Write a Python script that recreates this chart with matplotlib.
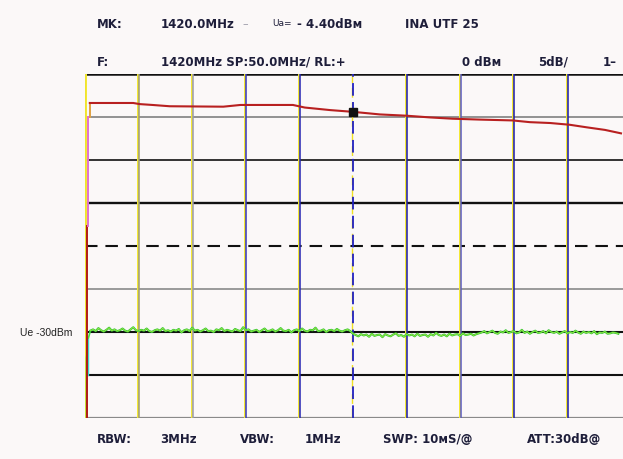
import numpy as np
import matplotlib
matplotlib.use("Agg")
import matplotlib.pyplot as plt

# ---------- data (read off the screen shot) ----------
# frequency axis: centre 1420 MHz, span 50 MHz, 5 dB/div, ref level 0 dBm
f_start, f_stop = 1395.0, 1445.0
ref_level, db_div, n_div_y = 0.0, 5.0, 8

# red trace (upper): frequency in MHz, level in dBm
red_f = [1395.45, 1399.5, 1400.1, 1401.3, 1402.9, 1407.9, 1409.5, 1414.4, 1415.5,
         1417.9, 1420.0, 1422.5, 1425.0, 1427.2, 1429.3, 1431.8, 1434.9, 1436.5,
         1438.4, 1440.2, 1441.8, 1443.5, 1445.0]
red_db = [-3.37, -3.37, -3.5, -3.6, -3.75, -3.8, -3.6, -3.6, -3.9,
          -4.2, -4.4, -4.7, -4.85, -5.05, -5.2, -5.3, -5.4, -5.6,
          -5.7, -5.9, -6.2, -6.5, -6.9]

# green trace (lower, noisy around -30 dBm), one value every 0.25 MHz from 1395.5
green_left = [-29.85, -29.7, -29.9, -29.55, -29.8, -29.95, -29.75, -29.5, -29.85, -29.7,
              -29.9, -29.8, -29.6, -29.85, -29.95, -29.7, -29.45, -29.8, -29.9, -29.75,
              -29.85, -29.6, -29.9, -30.0, -29.8, -29.7, -29.85, -29.55, -29.9, -29.8,
              -29.95, -29.75, -29.85, -29.65, -30.05, -29.8, -29.7, -29.9, -29.5, -29.85,
              -29.75, -29.95, -29.8, -29.6, -29.9, -29.85, -30.0, -29.7, -29.8, -29.55,
              -29.9, -29.75, -29.85, -29.95, -29.65, -29.8, -29.9, -29.45, -29.8, -29.7,
              -29.95, -29.85, -29.75, -30.0, -29.8, -29.6, -29.9, -29.85, -29.7, -29.95,
              -29.8, -29.55, -29.85, -29.9, -29.75, -30.05, -29.8, -29.7, -29.9, -29.6,
              -29.85, -29.95, -29.75, -29.8, -29.5, -29.9, -29.85, -29.7, -30.0, -29.8,
              -29.75, -29.9, -29.65, -29.85, -29.95, -29.8, -29.7, -29.9]
green_mid = [-30.2, -30.35, -30.5, -30.25, -30.4, -30.3, -30.55, -30.2, -30.45, -30.35,
             -30.3, -30.6, -30.25, -30.4, -30.5, -30.3, -30.15, -30.45, -30.35, -30.55,
             -30.25, -30.4, -30.3, -30.5, -30.2, -30.45, -30.35, -30.3, -30.55, -30.25,
             -30.4, -30.1, -30.35, -30.45, -30.3, -30.5, -30.2, -30.4, -30.3, -30.25,
             -30.45, -30.15, -30.35, -30.3, -30.2, -30.4, -30.25, -30.15]
green_right = [-30.05, -29.9, -30.15, -30.0, -29.85, -30.1, -30.2, -29.95, -30.05, -29.8,
               -30.1, -30.0, -29.9, -30.15, -30.05, -29.75, -30.1, -29.95, -30.2, -30.0,
               -29.85, -30.1, -30.05, -29.9, -30.15, -29.8, -30.0, -30.1, -29.95, -30.2,
               -30.05, -29.9, -30.15, -30.0, -30.1, -29.85, -30.05, -30.2, -29.95, -30.1,
               -30.0, -30.15, -29.9, -30.25, -30.05, -30.1, -29.95, -30.2, -30.15, -30.05,
               -30.1, -30.2]
green_db = green_left + green_mid + green_right
green_f = 1395.5 + 0.25 * np.arange(len(green_db))

marker_f, marker_db = 1420.0, -4.40

# ---------- figure ----------
BG = "#fbf8f8"
INK = "#1e1e3a"
fig = plt.figure(figsize=(6.23, 4.60), dpi=100, facecolor=BG)
ax = fig.add_axes([85 / 623, 41 / 460, 538 / 623, 344 / 460], facecolor=BG)
ax.set_xlim(f_start, f_start + (f_stop - f_start) * 538 / 536)
ax.set_ylim(ref_level - n_div_y * db_div, ref_level)
ax.set_xticks([]); ax.set_yticks([])
for s in ax.spines.values():
    s.set_visible(False)

# horizontal graticule
h_style = {-5: ("#8a8a8a", 1.3, "-"), -10: ("#111111", 1.2, "-"), -15: ("#111111", 1.7, "-"),
           -20: ("#111111", 1.5, "--"), -25: ("#8a8a8a", 1.2, "-"), -30: ("#111111", 1.5, "-"),
           -35: ("#111111", 1.5, "-"), -40: ("#8a8a8a", 1.6, "-")}
for lvl, (c, lw, ls) in h_style.items():
    if ls == "--":
        ax.axhline(lvl, color=c, lw=lw, dashes=(6, 3.8), zorder=2)
    else:
        ax.axhline(lvl, color=c, lw=lw, zorder=2)
ax.axhline(0, color="#111111", lw=1.8, zorder=2)

# vertical graticule: yellow line with a grey/blue partner
v_cols = ["#9c9a78", "#9a9ab0", "#3434c0", "#2424b4", "#2020c0", "#1a1ab0", "#5a5ac0", "#1a1ab0", "#1a1ab0"]
px = (f_stop - f_start) / 536
for k, c in enumerate(v_cols, start=1):
    f = f_start + 5 * k
    if f == 1420:
        ax.axvline(f - px * 0.8, color="#f0e020", lw=1.0, dashes=(7, 3.5), zorder=2)
        ax.axvline(f + px * 0.2, color=c, lw=1.3, dashes=(7, 3.5), zorder=3)
    else:
        ax.axvline(f - px * 0.6, color="#f4e830", lw=1.4, zorder=2)
        ax.axvline(f + px * 0.4, color=c, lw=1.1, zorder=2)
ax.axvline(f_start + px * 0.3, color="#111111", lw=1.3, zorder=2)
ax.axvline(f_start + px * 0.9, color="#f4e830", lw=1.4, zorder=2)

# green trace with its rise from the left edge
ax.plot([1395.15, 1395.15, 1395.3, 1395.5], [-40, -33, -30.8, green_db[0]], color="#44dd44", lw=1.2, zorder=4)
ax.plot([1395.3, 1395.3], [-35, -30.8], color="#40d8d0", lw=1.0, zorder=4)
ax.plot(green_f, green_db, color="#30c430", lw=1.5, zorder=4)
ax.plot(green_f, green_db, color="#a8ee48", lw=0.5, zorder=4)

# red trace with its rise from the left edge
ax.plot([1395.15, 1395.15], [-40, -17.7], color="#b01818", lw=1.4, zorder=5)
ax.plot([1395.3, 1395.3], [-17.7, -5.0], color="#e070d0", lw=1.4, zorder=5)
ax.plot([1395.45, 1395.45], [-5.0, red_db[0]], color="#e0a040", lw=1.4, zorder=5)
ax.plot(red_f, red_db, color="#b82020", lw=1.5, zorder=5)

# marker
ax.plot([marker_f], [marker_db], marker="s", ms=5.5, color="#111111", zorder=6)

# ---------- screen texts ----------
fb = dict(family="DejaVu Sans", weight="bold", fontsize=8.5, color=INK, va="center")
y1, y2, yb = 1 - 24 / 460, 1 - 62 / 460, 1 - 440 / 460
fig.text(97 / 623, y1, "MK:", **fb)
fig.text(161 / 623, y1, "1420.0MHz", **fb)
fig.text(242 / 623, y1, "\u2013", family="DejaVu Sans", fontsize=8, color="#9a9aa8", va="center")
fig.text(272 / 623, y1, "Ua=", family="DejaVu Sans", fontsize=6.5, color=INK, va="center")
fig.text(297 / 623, y1, "- 4.40dB\u043c", **fb)
fig.text(405 / 623, y1, "INA UTF 25", **fb)

fig.text(97 / 623, y2, "F:", **fb)
fig.text(161 / 623, y2, "1420MHz SP:50.0MHz/ RL:+", **fb)
fig.text(462 / 623, y2, "0 dB\u043c", **fb)
fig.text(538 / 623, y2, "5dB/", **fb)
fig.text(603 / 623, y2, "1\u2013", **fb)

fig.text(97 / 623, yb, "RBW:", **fb)
fig.text(160 / 623, yb, "3MHz", **fb)
fig.text(240 / 623, yb, "VBW:", **fb)
fig.text(305 / 623, yb, "1MHz", **fb)
fig.text(383 / 623, yb, "SWP: 10\u043cS/@", **fb)
fig.text(527 / 623, yb, "ATT:30dB@", **fb)

fig.text(20 / 623, 1 - 333 / 460, "Ue -30dBm", family="Liberation Sans", fontsize=7.5, color="#222222", va="center")

fig.savefig("out.png", dpi=100, facecolor=BG)
